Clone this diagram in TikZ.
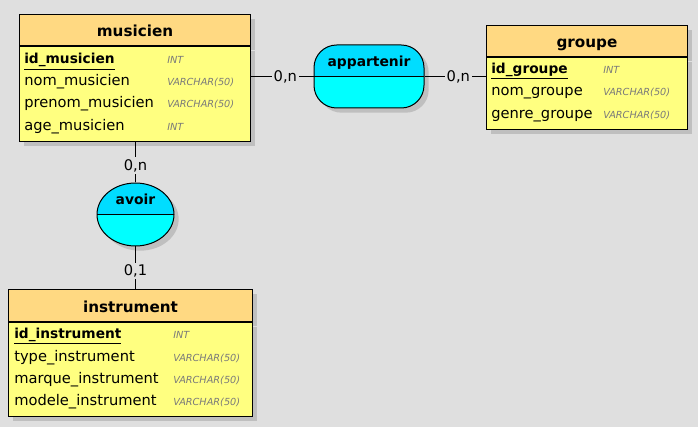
\documentclass[tikz,border=0pt]{standalone}
\usepackage{fontspec}
\setmainfont{DejaVu Sans}[ItalicFont=DejaVu Sans Oblique]
\usetikzlibrary{positioning,shapes.geometric,shadows}
\definecolor{bgcolor}{HTML}{DFDFDF}
\definecolor{headcolor}{HTML}{FFD982}
\definecolor{bodycolor}{HTML}{FFFF80}
\definecolor{assoctop}{HTML}{00DDFF}
\definecolor{assocbottom}{HTML}{00FFFF}
\definecolor{shadowgray}{HTML}{BFBFBF}
\definecolor{typegray}{HTML}{7A7A7A}
\tikzset{
  mcdshadow/.style={drop shadow={shadow xshift=3.5pt,shadow yshift=-3.5pt,fill=shadowgray,opacity=1}},
  entityhead/.style={draw=black,line width=0.75pt,fill=headcolor,anchor=north west,inner sep=0pt,
                     minimum height=23.25pt,font=\fontsize{11.4}{13}\selectfont\bfseries,
                     text height=10pt,text depth=0pt,mcdshadow},
  entitybody/.style={draw=black,line width=0.75pt,fill=bodycolor,anchor=north west,inner sep=0pt,mcdshadow},
  field/.style={anchor=base west,inner sep=0pt,font=\fontsize{11}{13}\selectfont},
  keyfield/.style={field,font=\fontsize{10.3}{13}\selectfont\bfseries},
  ftype/.style={anchor=base west,inner sep=0pt,text=typegray,font=\fontsize{7.3}{9}\selectfont\itshape},
  assoc/.style={draw=black,line width=0.75pt,fill=assocbottom,mcdshadow,
                path picture={\fill[assoctop,sharp corners] (path picture bounding box.north west) rectangle (path picture bounding box.east);
                              \draw[line width=0.75pt,sharp corners] (path picture bounding box.west) -- (path picture bounding box.east);}},
  assoctitle/.style={anchor=base,inner sep=0pt,font=\fontsize{10.4}{12}\selectfont\bfseries},
  card/.style={fill=bgcolor,inner sep=1.5pt,font=\fontsize{11}{13}\selectfont},
  link/.style={line width=0.75pt}
}

\begin{document}
\begin{tikzpicture}[x=0.75pt,y=-0.75pt]
\fill[bgcolor] (0,0) rectangle (698,427);

% entites
\node[entityhead, minimum width=173.25pt] (musicien) at (19,14) {musicien};
\node[entitybody, minimum width=173.25pt, minimum height=71.25pt] (musicienbody) at (musicien.south west) {};
\node[keyfield] (idmusicien) at (24,64) {\underline{id\_musicien}};
\node[field] (nommusicien) at (24,86) {nom\_musicien};
\node[field] (prenommusicien) at (24,108) {prenom\_musicien};
\node[field] (agemusicien) at (24,130.5) {age\_musicien};
\node[ftype] (tidmusicien) at (167,64) {INT};
\node[ftype] (tnommusicien) at (167,86) {VARCHAR(50)};
\node[ftype] (tprenommusicien) at (167,108) {VARCHAR(50)};
\node[ftype] (tagemusicien) at (167,130.5) {INT};

\node[entityhead, minimum width=150.75pt] (groupe) at (486,25) {groupe};
\node[entitybody, minimum width=150.75pt, minimum height=54pt] (groupebody) at (groupe.south west) {};
\node[keyfield] (idgroupe) at (491,73.3) {\underline{id\_groupe}};
\node[field] (nomgroupe) at (491,95.7) {nom\_groupe};
\node[field] (genregroupe) at (491,118.1) {genre\_groupe};
\node[ftype] (tidgroupe) at (603,73.3) {INT};
\node[ftype] (tnomgroupe) at (603,95.7) {VARCHAR(50)};
\node[ftype] (tgenregroupe) at (603,118.1) {VARCHAR(50)};

\node[entityhead, minimum width=183pt, minimum height=24pt] (instrument) at (8,289) {instrument};
\node[entitybody, minimum width=183pt, minimum height=70.5pt] (instrumentbody) at (instrument.south west) {};
\node[keyfield] (idinstrument) at (14,338.3) {\underline{id\_instrument}};
\node[field] (typeinstrument) at (14,361) {type\_instrument};
\node[field] (marqueinstrument) at (14,383) {marque\_instrument};
\node[field] (modeleinstrument) at (14,405) {modele\_instrument};
\node[ftype] (tidinstrument) at (173,338.3) {INT};
\node[ftype] (ttypeinstrument) at (173,361) {VARCHAR(50)};
\node[ftype] (tmarqueinstrument) at (173,383) {VARCHAR(50)};
\node[ftype] (tmodeleinstrument) at (173,405) {VARCHAR(50)};

% associations
\node[assoc, rounded corners=17pt, minimum width=82.5pt, minimum height=47.25pt] (appartenir) at (369,76.5) {};
\node[assoctitle] (appartenirtitle) at ([yshift=7.5pt]appartenir.center) {appartenir};
\node[assoc, ellipse, minimum width=57.75pt, minimum height=47.25pt] (avoir) at (135.5,214.5) {};
\node[assoctitle] (avoirtitle) at ([yshift=7.5pt]avoir.center) {avoir};

% liens
\draw[link] (musicienbody.east |- appartenir.west) -- node[card,pos=0.55] {0,n} (appartenir.west);
\draw[link] (appartenir.east) -- node[card,pos=0.55] {0,n} (appartenir.east -| groupebody.west);
\draw[link] (musicienbody.south -| avoir.north) -- node[card,pos=0.58] {0,n} (avoir.north);
\draw[link] (avoir.south) -- node[card,pos=0.58] {0,1} (avoir.south |- instrument.north);
\end{tikzpicture}
\end{document}
